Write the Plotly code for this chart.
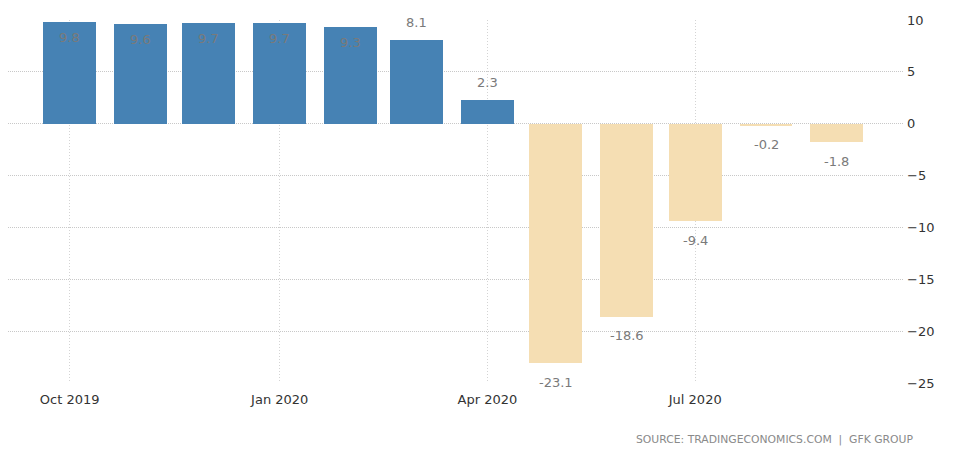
import plotly.graph_objects as go

months = ["2019-10-01", "2019-11-01", "2019-12-01", "2020-01-01", "2020-02-01", "2020-03-01",
          "2020-04-01", "2020-05-01", "2020-06-01", "2020-07-01", "2020-08-01", "2020-09-01"]
values = [9.8, 9.6, 9.7, 9.7, 9.3, 8.1, 2.3, -23.1, -18.6, -9.4, -0.2, -1.8]
tick_dates = ["2019-10-01", "2020-01-01", "2020-04-01", "2020-07-01"]
tick_labels = ["Oct 2019", "Jan 2020", "Apr 2020", "Jul 2020"]
source_text = "SOURCE: TRADINGECONOMICS.COM  |  GFK GROUP"

POS = "#4682B4"
NEG = "#F5DEB3"
colors = [POS if v >= 0 else NEG for v in values]
DAY = 86400000

W, H = 950, 448
L, R, T, B = 0, 55, 12, 73
PW, PH = W - L - R, H - T - B

fig = go.Figure(go.Bar(
    x=months, y=values,
    marker=dict(color=colors, line=dict(width=0)),
    width=[23.2 * DAY] * len(values),
    hoverinfo="x+y",
))

annotations = []
for m, v in zip(months, values):
    if v > 9:
        shift = -15  # label drawn inside the bar, near its top
    elif v >= 0:
        shift = 17
    else:
        shift = -19
    annotations.append(dict(
        x=m, y=v, xref="x", yref="y", text=f"{v:.1f}",
        showarrow=False, xanchor="center", yanchor="middle", yshift=shift,
        font=dict(family="DejaVu Sans", size=13, color="#7a7a7a"),
    ))

annotations.append(dict(
    text=source_text, xref="paper", yref="paper",
    x=(907 - L) / PW, y=(H - B - 432) / PH, xanchor="right", yanchor="middle",
    showarrow=False,
    font=dict(family="DejaVu Sans", size=10.8, color="#8a8a8a"),
))

fig.update_layout(
    width=W, height=H,
    margin=dict(l=L, r=R, t=T, b=B, autoexpand=False),
    paper_bgcolor="white", plot_bgcolor="white",
    showlegend=False,
    bargap=0,
    font=dict(family="DejaVu Sans", size=12, color="#333333"),
    xaxis=dict(
        type="date",
        range=["2019-09-04", "2020-09-30"],
        tickvals=tick_dates, ticktext=tick_labels,
        showgrid=True, gridcolor="#d4d4d4", griddash="1px,2px", gridwidth=1,
        zeroline=False, showline=False, ticks="",
        automargin=False,
        ticklabelstandoff=7,
        tickfont=dict(family="DejaVu Sans", size=13, color="#333333"),
    ),
    yaxis=dict(
        side="right",
        range=[-25, 10],
        tickvals=[10, 5, 0, -5, -10, -15, -20, -25],
        showgrid=True, gridcolor="#c8c8c8", griddash="1px,1px", gridwidth=1,
        zeroline=False, showline=False, ticks="",
        automargin=False,
        ticklabelstandoff=3,
        tickfont=dict(family="DejaVu Sans", size=13, color="#333333"),
    ),
    annotations=annotations,
)

fig.write_html("out.html")
